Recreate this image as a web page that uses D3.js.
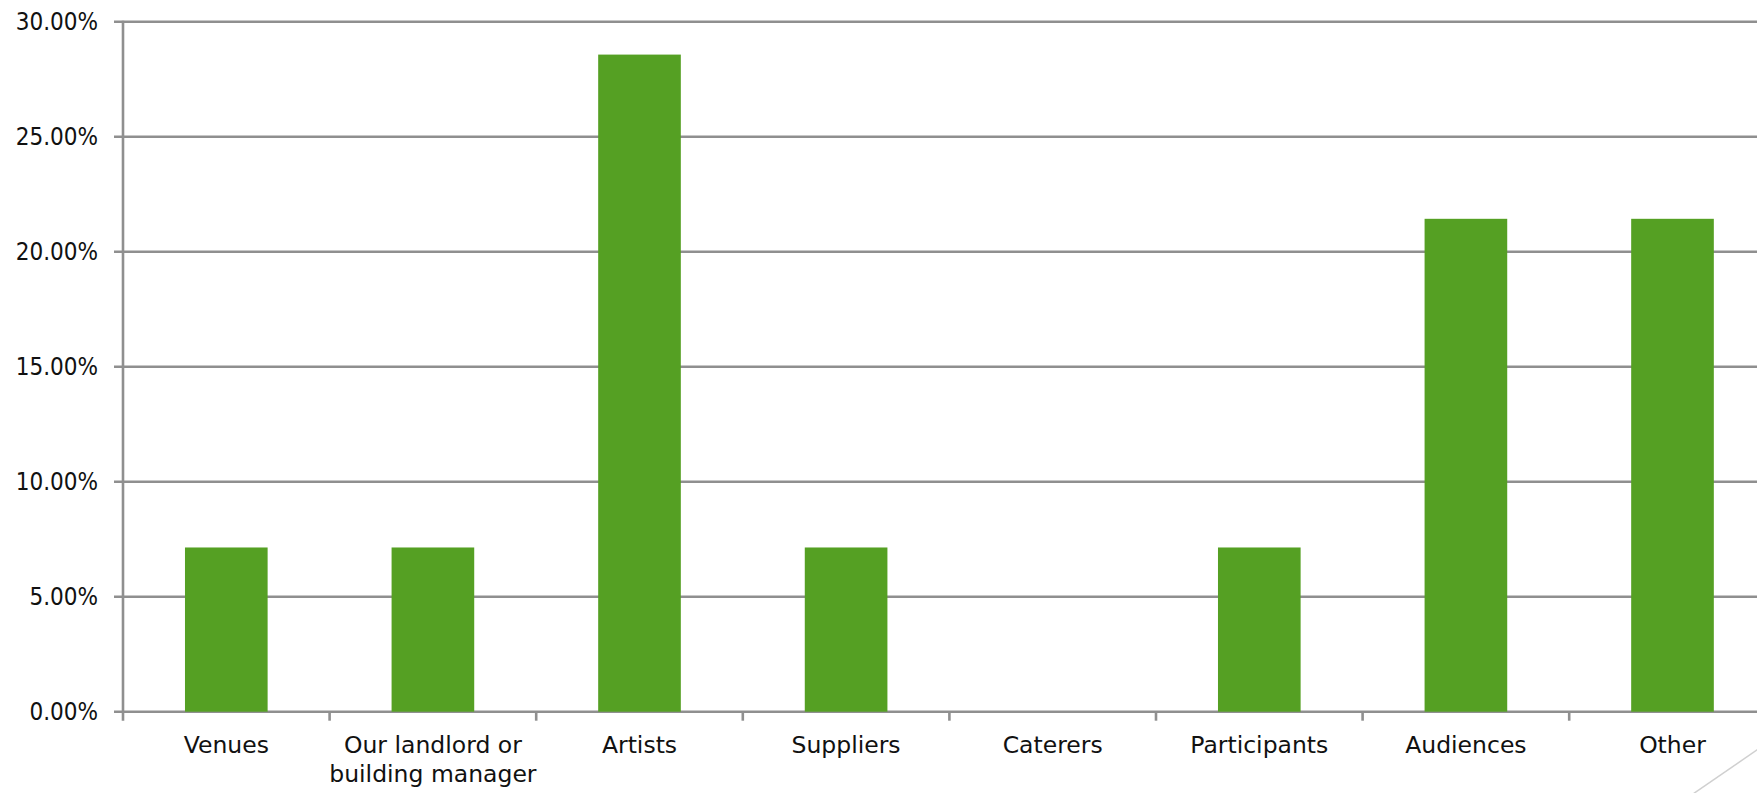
<!DOCTYPE html>
<html><head><meta charset="utf-8">
<script src="https://cdn.jsdelivr.net/npm/d3@7"></script>
<style>
html,body{margin:0;padding:0;background:#fff;}
svg{display:block;}
text{font-family:"DejaVu Sans",sans-serif;fill:#111;}
text.ylab{font-family:"DejaVu Sans Condensed","DejaVu Sans",sans-serif;}
</style></head>
<body>
<svg id="chart" width="1757" height="793"></svg>
<script>
const categories = ["Venues", "Our landlord or\nbuilding manager", "Artists", "Suppliers", "Caterers", "Participants", "Audiences", "Other"];
const values = [7.14, 7.14, 28.57, 7.14, 0, 7.14, 21.43, 21.43];
const yTicks = [0, 5, 10, 15, 20, 25, 30];

const W = 1757, H = 793;
const plotLeft = 123, plotTop = 21.7, plotBottom = 711.7, band = 206.6;
const plotRight = plotLeft + band * categories.length;

const svg = d3.select("#chart");
const x = d3.scaleBand().domain(categories).range([plotLeft, plotRight]).paddingInner(0.6).paddingOuter(0.3);
const y = d3.scaleLinear().domain([0, 30]).range([plotBottom, plotTop]);

// gridlines
svg.append("g").selectAll("line").data(yTicks).join("line")
  .attr("x1", plotLeft - 9).attr("x2", W + 10)
  .attr("y1", d => y(d)).attr("y2", d => y(d))
  .attr("stroke", "#8f8f8f").attr("stroke-width", 2.6);

// y axis line
svg.append("line").attr("x1", plotLeft).attr("x2", plotLeft).attr("y1", plotTop - 1).attr("y2", plotBottom + 9)
  .attr("stroke", "#8f8f8f").attr("stroke-width", 2.6);

// y labels
svg.append("g").selectAll("text").data(yTicks).join("text")
  .attr("class", "ylab")
  .attr("x", 98).attr("y", d => y(d)).attr("dy", "0.36em")
  .attr("text-anchor", "end").attr("font-size", 24)
  .text(d => d.toFixed(2) + "%");

// x ticks (band boundaries)
const bounds = d3.range(1, categories.length + 1).map(i => plotLeft + i * band);
svg.append("g").selectAll("line").data(bounds).join("line")
  .attr("x1", d => d).attr("x2", d => d).attr("y1", plotBottom).attr("y2", plotBottom + 9)
  .attr("stroke", "#8f8f8f").attr("stroke-width", 2.6);

// bars
svg.append("g").selectAll("rect").data(values).join("rect")
  .attr("x", (d, i) => x(categories[i]))
  .attr("width", x.bandwidth())
  .attr("y", d => y(d))
  .attr("height", d => y(0) - y(d))
  .attr("fill", "#55a023");

// x labels
const lab = svg.append("g").selectAll("text").data(categories).join("text")
  .attr("x", d => x(d) + x.bandwidth() / 2)
  .attr("y", plotBottom + 41)
  .attr("text-anchor", "middle").attr("font-size", 23.5);
lab.each(function(d) {
  const lines = d.split("\n");
  const t = d3.select(this);
  lines.forEach((l, k) => {
    t.append("tspan").attr("x", t.attr("x")).attr("dy", k === 0 ? 0 : 29).text(l);
  });
});

// decorative corner line
svg.append("line").attr("x1", W + 5).attr("y1", 746.5).attr("x2", 1690).attr("y2", 796)
  .attr("stroke", "#d0d0d0").attr("stroke-width", 1.5);
</script>
</body></html>
